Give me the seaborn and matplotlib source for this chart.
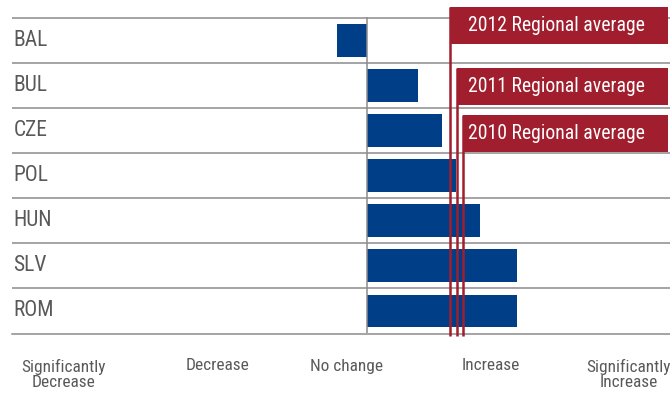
import matplotlib.pyplot as plt
from matplotlib.patches import Rectangle
import seaborn as sns
import pandas as pd

# Valores por país (escala: -4 = significativamente menor ... 4 = significativamente mayor)
paises = ['BAL', 'BUL', 'CZE', 'POL', 'HUN', 'SLV', 'ROM']
cambio = [-0.4, 0.68, 1.0, 1.19, 1.51, 2.0, 2.0]

# Promedios regionales
anios = ['2012', '2011', '2010']
promedio_regional = [1.11, 1.2, 1.28]

# Etiquetas del eje x
etiquetas_x = ['Significantly\nDecrease', 'Decrease', 'No change', 'Increase', 'Significantly\nIncrease']

azul = '#003f87'
rojo = '#a01e2d'
gris = '#8c8c8c'
texto = '#595959'

df = pd.DataFrame({'pais': paises, 'cambio': cambio})

sns.set_style('white')
plt.rcParams['font.family'] = ['Roboto Condensed', 'Roboto', 'DejaVu Sans']

fig = plt.figure(figsize=(6.7, 3.98), dpi=100)
ax = fig.add_axes([12 / 670, 64.5 / 398, 658 / 670, 333.5 / 398])

sns.barplot(data=df, x='cambio', y='pais', orient='h', color=azul,
            saturation=1, width=0.73, linewidth=0, ax=ax, zorder=3)

ax.set_xlim(-4.72, 4.03)
ax.set_ylim(6.5, -0.9)

# Líneas de filas y línea de "sin cambio"
for y in [i - 0.5 for i in range(len(paises))]:
    ax.axhline(y, color=gris, lw=1.1, zorder=1)
ax.vlines(0, -0.52, 6.5, color=gris, lw=1.1, zorder=4)

# Nombres de países
for i, nombre in enumerate(paises):
    ax.text(0.002, i, nombre, transform=ax.get_yaxis_transform(),
            ha='left', va='center', fontsize=15.5, color=texto)

# Ejes
for lado in ['top', 'right', 'left']:
    ax.spines[lado].set_visible(False)
ax.spines['bottom'].set_color(gris)
ax.spines['bottom'].set_linewidth(1.1)
ax.set_yticks([])
ax.set_ylabel('')
ax.set_xlabel('')
ax.set_xticks(range(-4, 5), [''] * 9)
ax.tick_params(axis='x', which='major', length=5, width=1.1, color=gris, direction='out')
ax.set_xticks([-4.04, -1.99, -0.27, 1.65, 3.48], etiquetas_x, minor=True)
ax.tick_params(axis='x', which='minor', length=0, pad=18, labelsize=12.4, labelcolor=texto)
for t in ax.get_xticklabels(minor=True):
    t.set_linespacing(1.05)

# Promedios regionales: línea vertical + caja con texto
cajas_top = [-0.744, 0.61, 1.656]
alto_caja = 0.822
for anio, valor, top in zip(anios, promedio_regional, cajas_top):
    ax.vlines(valor, top, 6.55, color=rojo, lw=1.8, zorder=5, clip_on=False)
    ax.add_patch(Rectangle((valor, top), 4.0 - valor, alto_caja, color=rojo, zorder=6, lw=0))
    ax.text(1.34, top + alto_caja / 2, f'{anio} Regional average', color='white',
            fontsize=14.2, ha='left', va='center', zorder=7)

fig.savefig('out.png', dpi=100)
